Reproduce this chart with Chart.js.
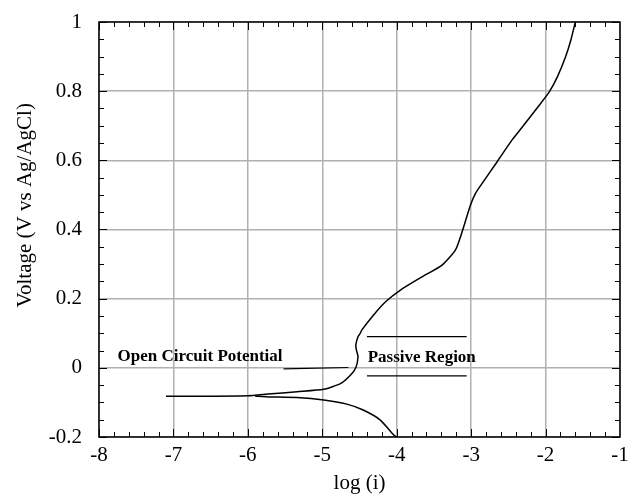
<!DOCTYPE html>
<html>
<head>
<meta charset="utf-8">
<script src="https://cdn.jsdelivr.net/npm/chart.js@4"></script>
<style>
  html, body { margin: 0; padding: 0; background: #fff; }
  #wrap { width: 634px; height: 498px; }
</style>
</head>
<body>
<div id="wrap"><canvas id="polChart" width="634" height="498"></canvas></div>
<script>
// Anodic branch (log current vs voltage)
const anodicLogI = [-7.1, -6.5, -6.0, -5.73, -5.34, -4.98, -4.75, -4.62, -4.55, -4.52, -4.54, -4.55, -4.52, -4.49, -4.47, -4.33, -4.15, -3.95, -3.66, -3.39, -3.21, -3.12, -3.01, -2.94, -2.85, -2.65, -2.45, -2.31, -2.09, -1.95, -1.84, -1.73, -1.66, -1.6];
const anodicV = [-0.082, -0.082, -0.081, -0.076, -0.069, -0.062, -0.045, -0.021, 0.0, 0.032, 0.05, 0.066, 0.09, 0.1, 0.109, 0.148, 0.191, 0.225, 0.263, 0.297, 0.341, 0.394, 0.47, 0.505, 0.534, 0.596, 0.659, 0.697, 0.758, 0.798, 0.842, 0.9, 0.948, 1.0];

// Cathodic branch
const cathodicLogI = [-5.9, -5.73, -5.34, -4.98, -4.67, -4.45, -4.22, -4.04, -4.0];
const cathodicV = [-0.082, -0.084, -0.086, -0.093, -0.105, -0.122, -0.151, -0.194, -0.2];

// Annotation lines
const ocpLineX = [-5.52, -4.65];
const ocpLineY = [-0.003, 0.001];
const passiveLineX = [-4.4, -3.06];
const passiveUpperY = [0.09, 0.09];
const passiveLowerY = [-0.023, -0.023];

// Annotation texts
const labels = [
    { text: 'Open Circuit Potential', x: -7.75, y: 0.02 },
    { text: 'Passive Region', x: -4.39, y: 0.017 }
];

const xTicks = [-8, -7, -6, -5, -4, -3, -2, -1];
const yTicks = [-0.2, 0, 0.2, 0.4, 0.6, 0.8, 1];
const yTitle = 'Voltage (V vs Ag/AgCl)';

const toPoints = (xs, ys) => xs.map((x, i) => ({ x: x, y: ys[i] }));

const lineSet = (xs, ys) => ({
    data: toPoints(xs, ys),
    showLine: true,
    borderColor: '#000',
    borderWidth: 1.5,
    pointRadius: 0,
    tension: 0.2
});

const serif = "'Liberation Serif', 'DejaVu Serif', serif";

// inward ticks on all four sides + annotation text + y title
const framePlugin = {
    id: 'frame',
    afterDraw(chart) {
        const { ctx, chartArea: a, scales: { x, y } } = chart;
        ctx.save();
        ctx.strokeStyle = '#000';
        ctx.lineWidth = 1.5;
        ctx.strokeRect(a.left, a.top, a.right - a.left, a.bottom - a.top);

        ctx.lineWidth = 1;
        ctx.beginPath();
        for (let v = -8; v <= -1.0001; v += 0.2) {
            const px = Math.round(x.getPixelForValue(v)) + 0.5;
            const major = Math.abs(v - Math.round(v)) < 0.01;
            const len = major ? 8 : 5;
            ctx.moveTo(px, a.bottom); ctx.lineTo(px, a.bottom - len);
            ctx.moveTo(px, a.top); ctx.lineTo(px, a.top + len);
        }
        for (let k = 0; k <= 24; k++) {
            const v = -0.2 + k * 0.05;
            const py = Math.round(y.getPixelForValue(v)) + 0.5;
            const len = (k % 4 === 0) ? 8 : 5;
            ctx.moveTo(a.left, py); ctx.lineTo(a.left + len, py);
            ctx.moveTo(a.right, py); ctx.lineTo(a.right - len, py);
        }
        ctx.stroke();

        ctx.fillStyle = '#000';
        ctx.font = 'bold 17px ' + serif;
        ctx.textBaseline = 'alphabetic';
        labels.forEach(l => {
            ctx.fillText(l.text, x.getPixelForValue(l.x), y.getPixelForValue(l.y));
        });

        // y axis title, sits a bit above the middle like the original
        ctx.font = '21px ' + serif;
        ctx.textAlign = 'center';
        ctx.textBaseline = 'middle';
        ctx.translate(25, y.getPixelForValue(0.47));
        ctx.rotate(-Math.PI / 2);
        ctx.fillText(yTitle, 0, 0);
        ctx.restore();
    }
};

new Chart(document.getElementById('polChart'), {
    type: 'scatter',
    data: {
        datasets: [
            lineSet(anodicLogI, anodicV),
            lineSet(cathodicLogI, cathodicV),
            { ...lineSet(ocpLineX, ocpLineY), tension: 0, borderWidth: 1.2 },
            { ...lineSet(passiveLineX, passiveUpperY), tension: 0, borderWidth: 1.2 },
            { ...lineSet(passiveLineX, passiveLowerY), tension: 0, borderWidth: 1.2 }
        ]
    },
    options: {
        responsive: false,
        animation: false,
        layout: { padding: { left: 0, right: 14, top: 22, bottom: 0 } },
        plugins: {
            legend: { display: false },
            tooltip: { enabled: false }
        },
        scales: {
            x: {
                type: 'linear',
                min: -8,
                max: -1,
                afterBuildTicks: (s) => { s.ticks = xTicks.map(v => ({ value: v })); },
                afterFit: (s) => { s.height = 61; s.paddingLeft = 0; s.paddingRight = 0; },
                grid: { color: '#b0b0b0', lineWidth: 1.5, drawTicks: false },
                border: { display: false },
                ticks: {
                    color: '#000',
                    padding: 6,
                    font: { family: serif, size: 21 },
                    callback: (v) => String(v)
                },
                title: {
                    display: true,
                    text: 'log (i)',
                    color: '#000',
                    padding: { top: 0, bottom: 2 },
                    font: { family: serif, size: 21 }
                }
            },
            y: {
                type: 'linear',
                min: -0.2,
                max: 1,
                afterBuildTicks: (s) => { s.ticks = yTicks.map(v => ({ value: v })); },
                afterFit: (s) => { s.width = 99; s.paddingTop = 0; s.paddingBottom = 0; },
                grid: { color: '#b0b0b0', lineWidth: 1.5, drawTicks: false },
                border: { display: false },
                ticks: {
                    color: '#000',
                    padding: 17,
                    font: { family: serif, size: 21 },
                    callback: (v) => String(+v.toFixed(1))
                },
                title: { display: false }
            }
        }
    },
    plugins: [framePlugin]
});
</script>
</body>
</html>
